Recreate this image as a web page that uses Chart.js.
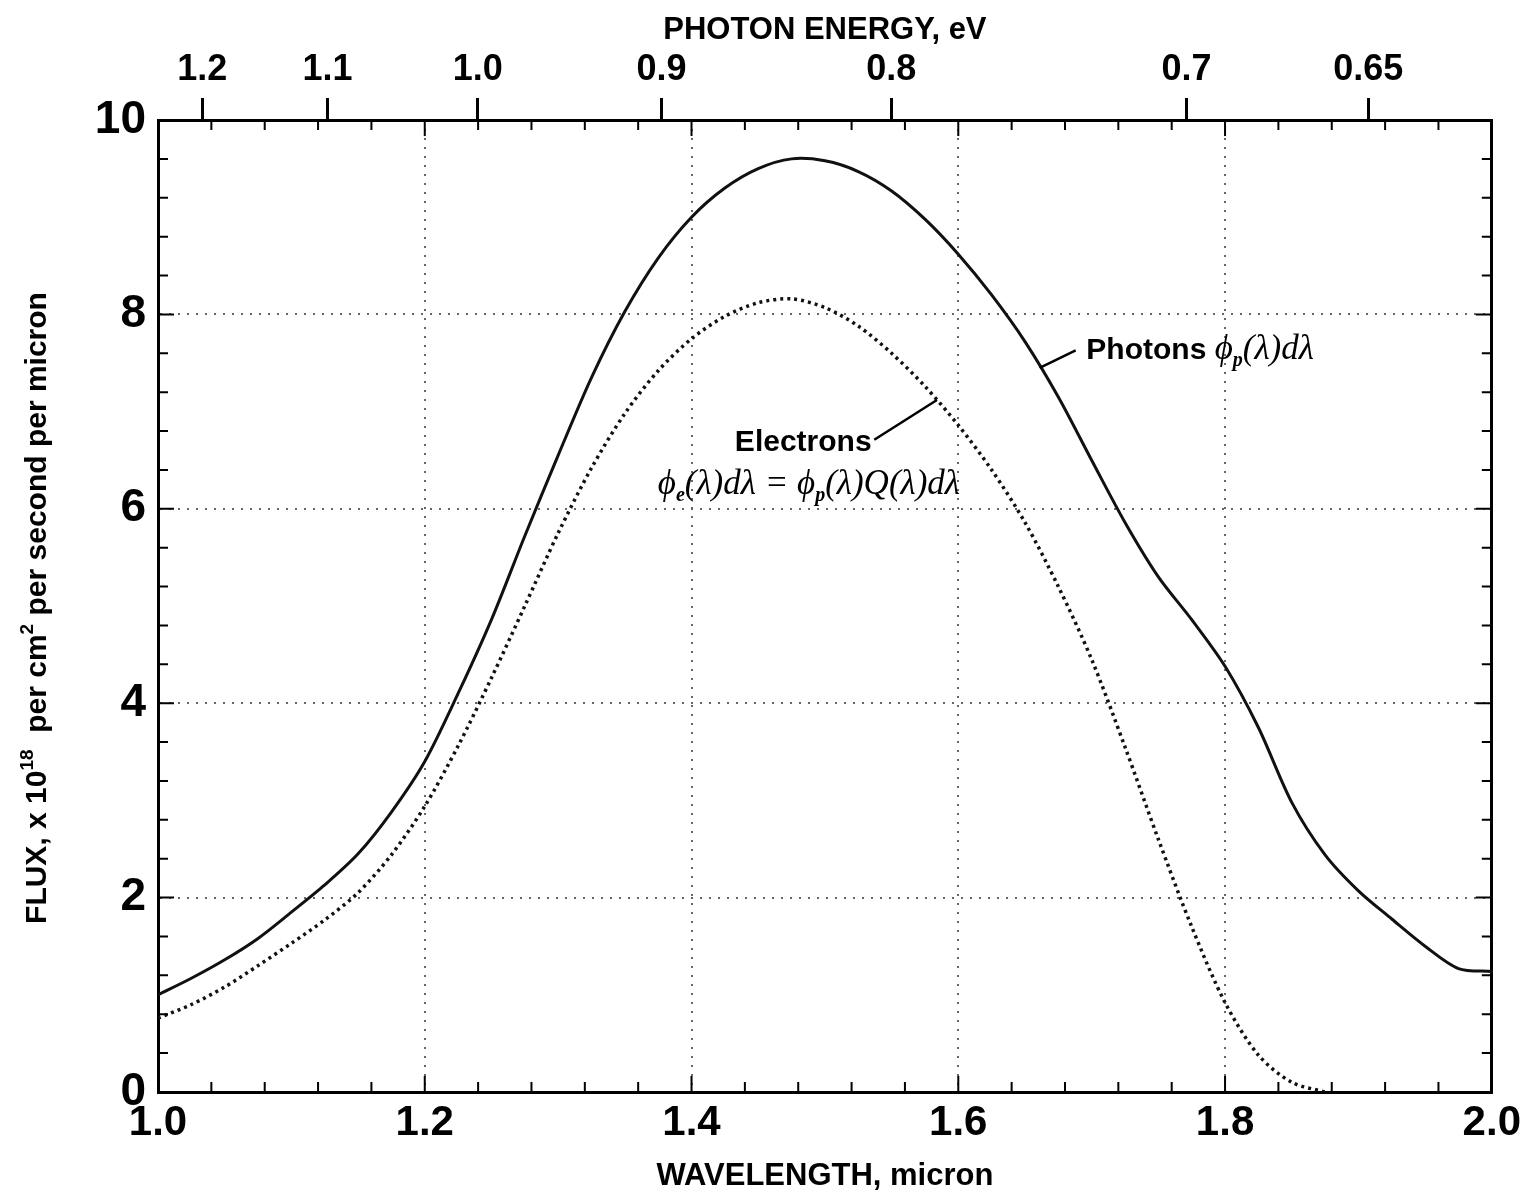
<!DOCTYPE html>
<html>
<head>
<meta charset="utf-8">
<script src="https://cdn.jsdelivr.net/npm/chart.js@4.4.0/dist/chart.umd.min.js"></script>
<style>
  html, body { margin: 0; padding: 0; background: #fff; }
  #wrap { width: 1527px; height: 1199px; }
</style>
</head>
<body>
<div id="wrap"><canvas id="fluxChart" width="1527" height="1199"></canvas></div>
<script>
// Photon flux (solid curve), x 10^18 per cm2 per second per micron
const photonWl = [1.00, 1.025, 1.05, 1.075, 1.10, 1.125, 1.15, 1.175, 1.20, 1.225, 1.25, 1.275,
  1.30, 1.325, 1.35, 1.375, 1.40, 1.425, 1.45, 1.475, 1.50, 1.525, 1.55, 1.575, 1.60, 1.625,
  1.65, 1.675, 1.70, 1.725, 1.75, 1.775, 1.80, 1.825, 1.85, 1.875, 1.90, 1.925, 1.95, 1.975, 2.00];
const photonFlux = [1.0, 1.17, 1.36, 1.58, 1.85, 2.13, 2.45, 2.88, 3.4, 4.1, 4.86, 5.72,
  6.55, 7.35, 8.03, 8.58, 9.0, 9.3, 9.5, 9.6, 9.58, 9.47, 9.27, 8.98, 8.62, 8.2,
  7.72, 7.15, 6.5, 5.86, 5.3, 4.86, 4.38, 3.75, 2.98, 2.44, 2.07, 1.78, 1.5, 1.27, 1.24];

// Electron flux (dotted curve)
const electronWl = [1.00, 1.025, 1.05, 1.075, 1.10, 1.125, 1.15, 1.175, 1.20, 1.225, 1.25, 1.275,
  1.30, 1.325, 1.35, 1.375, 1.40, 1.425, 1.45, 1.475, 1.50, 1.525, 1.55, 1.575, 1.60, 1.625,
  1.65, 1.675, 1.70, 1.725, 1.75, 1.775, 1.80, 1.825, 1.85, 1.875];
const electronFlux = [0.76, 0.9, 1.08, 1.3, 1.53, 1.77, 2.05, 2.44, 2.94, 3.56, 4.26, 5.0,
  5.75, 6.42, 6.98, 7.42, 7.75, 7.98, 8.12, 8.16, 8.07, 7.88, 7.6, 7.26, 6.86, 6.4,
  5.86, 5.2, 4.45, 3.55, 2.6, 1.7, 0.92, 0.38, 0.1, 0.0];

// top axis: photon energy (eV) -> wavelength = HC / E
const energyTicks = [1.2, 1.1, 1.0, 0.9, 0.8, 0.7, 0.65];
const energyLabels = ['1.2', '1.1', '1.0', '0.9', '0.8', '0.7', '0.65'];
const HC = 1.2398;

const SANS = '"Liberation Sans", Arial, Helvetica, sans-serif';
const SERIF = '"Liberation Serif", "Times New Roman", "DejaVu Serif", serif';

const isMajor = (v, step) => Math.abs(v / step - Math.round(v / step)) < 1e-6;

// draw a run of text pieces with different fonts / offsets
function drawRich(ctx, x, y, parts, align) {
  let total = 0;
  parts.forEach(p => { ctx.font = p.font; p.w = ctx.measureText(p.t).width; total += p.w; });
  let cx = align === 'center' ? x - total / 2 : align === 'right' ? x - total : x;
  ctx.textAlign = 'left';
  ctx.textBaseline = 'alphabetic';
  parts.forEach(p => {
    ctx.font = p.font;
    ctx.fillText(p.t, cx, y + (p.dy || 0));
    cx += p.w;
  });
}

// small inward tick marks on all four sides
const innerTicks = {
  id: 'innerTicks',
  afterDraw(chart) {
    const {ctx, chartArea: a, scales: {x, y}} = chart;
    ctx.save();
    ctx.strokeStyle = '#000';
    ctx.lineWidth = 2;
    ctx.beginPath();
    x.ticks.forEach(t => {
      const px = x.getPixelForValue(t.value);
      const len = isMajor(t.value, 0.2) ? 16 : 10;
      ctx.moveTo(px, a.bottom); ctx.lineTo(px, a.bottom - len);
      ctx.moveTo(px, a.top); ctx.lineTo(px, a.top + len);
    });
    y.ticks.forEach(t => {
      const py = y.getPixelForValue(t.value);
      const len = isMajor(t.value, 2) ? 16 : 10;
      ctx.moveTo(a.left, py); ctx.lineTo(a.left + len, py);
      ctx.moveTo(a.right, py); ctx.lineTo(a.right - len, py);
    });
    ctx.stroke();
    ctx.restore();
  }
};

// y title with superscripts
const yTitle = {
  id: 'yTitle',
  afterDraw(chart) {
    const {ctx} = chart;
    ctx.save();
    ctx.translate(46, 608);
    ctx.rotate(-Math.PI / 2);
    ctx.fillStyle = '#000';
    const b = 'bold 30px ' + SANS, s = 'bold 19px ' + SANS;
    drawRich(ctx, 0, 0, [
      {t: 'FLUX, x 10', font: b},
      {t: '18', font: s, dy: -13},
      {t: '  per cm', font: b},
      {t: '2', font: s, dy: -13},
      {t: ' per second per micron', font: b}
    ], 'center');
    ctx.restore();
  }
};

// curve labels with leader lines
const curveLabels = {
  id: 'curveLabels',
  afterDatasetsDraw(chart) {
    const {ctx, scales: {x, y}} = chart;
    const P = (wl, v) => [x.getPixelForValue(wl), y.getPixelForValue(v)];
    ctx.save();
    ctx.strokeStyle = '#000';
    ctx.fillStyle = '#000';
    ctx.lineWidth = 2.5;
    let a = P(1.661, 7.45), b = P(1.688, 7.63);
    ctx.beginPath(); ctx.moveTo(a[0], a[1]); ctx.lineTo(b[0], b[1]); ctx.stroke();
    a = P(1.584, 7.12); b = P(1.537, 6.71);
    ctx.beginPath(); ctx.moveTo(a[0], a[1]); ctx.lineTo(b[0], b[1]); ctx.stroke();

    const bs = 'bold 30px ' + SANS;
    const it = 'italic 35px ' + SERIF;
    const sub = 'bold italic 20px ' + SERIF;
    let p = P(1.696, 7.65);
    drawRich(ctx, p[0], p[1] + 11, [
      {t: 'Photons ', font: bs},
      {t: 'ϕ', font: it},
      {t: 'p', font: sub, dy: 7},
      {t: '(λ)dλ', font: it}
    ], 'left');
    p = P(1.535, 6.71);
    drawRich(ctx, p[0], p[1] + 11, [{t: 'Electrons', font: bs}], 'right');
    p = P(1.488, 6.28);
    drawRich(ctx, p[0], p[1] + 12, [
      {t: 'ϕ', font: it},
      {t: 'e', font: sub, dy: 7},
      {t: '(λ)dλ = ϕ', font: it},
      {t: 'p', font: sub, dy: 7},
      {t: '(λ)Q(λ)dλ', font: it}
    ], 'center');
    ctx.restore();
  }
};

const gridColor = c => (c.tick && isMajor(c.tick.value, 0.2) && c.tick.value > 1.01 && c.tick.value < 1.99)
  ? '#666' : 'rgba(0,0,0,0)';
const yGridColor = c => (c.tick && isMajor(c.tick.value, 2) && c.tick.value > 0.1 && c.tick.value < 9.9)
  ? '#666' : 'rgba(0,0,0,0)';

new Chart(document.getElementById('fluxChart'), {
  type: 'scatter',
  data: {
    datasets: [
      {
        label: 'Photons',
        data: photonWl.map((w, i) => ({x: w, y: photonFlux[i]})),
        showLine: true,
        borderColor: '#111',
        borderWidth: 3,
        pointRadius: 0,
        tension: 0.3
      },
      {
        label: 'Electrons',
        data: electronWl.map((w, i) => ({x: w, y: electronFlux[i]})),
        showLine: true,
        borderColor: '#111',
        borderWidth: 3.5,
        borderDash: [3, 4],
        pointRadius: 0,
        tension: 0.3
      }
    ]
  },
  options: {
    responsive: false,
    animation: false,
    devicePixelRatio: 1,
    layout: { padding: 0 },
    plugins: { legend: { display: false }, tooltip: { enabled: false } },
    scales: {
      x: {
        type: 'linear', position: 'bottom', min: 1, max: 2,
        afterFit: s => { s.height = 107; },
        ticks: {
          stepSize: 0.04, autoSkip: false, maxRotation: 0, padding: 6, color: '#000',
          font: { family: SANS, size: 42, weight: 'bold' },
          callback: v => isMajor(v, 0.2) ? v.toFixed(1) : ''
        },
        grid: { drawTicks: false, color: gridColor, lineWidth: 2 },
        border: { display: true, color: '#000', width: 3, dash: [2, 7] },
        title: {
          display: true, text: 'WAVELENGTH, micron', color: '#000',
          font: { family: SANS, size: 31, weight: 'bold' }, padding: { top: 0, bottom: 4 }
        }
      },
      xTop: {
        type: 'linear', position: 'top', min: 1, max: 2,
        afterFit: s => { s.height = 120; },
        afterBuildTicks: s => { s.ticks = energyTicks.map(e => ({value: HC / e})); },
        ticks: {
          autoSkip: false, maxRotation: 0, padding: 6, color: '#000',
          font: { family: SANS, size: 36, weight: 'bold' },
          callback: (v, i) => energyLabels[i]
        },
        grid: { drawOnChartArea: false, drawTicks: true, tickLength: 22, tickWidth: 3, tickColor: '#000' },
        border: { display: true, color: '#000', width: 3 },
        title: {
          display: true, text: 'PHOTON ENERGY, eV', color: '#000',
          font: { family: SANS, size: 31, weight: 'bold' }, padding: { top: 12, bottom: 0 }
        }
      },
      y: {
        type: 'linear', position: 'left', min: 0, max: 10,
        afterFit: s => { s.width = 158; },
        ticks: {
          stepSize: 0.4, autoSkip: false, padding: 12, color: '#000',
          font: { family: SANS, size: 46, weight: 'bold' },
          callback: v => isMajor(v, 2) ? String(Math.round(v)) : ''
        },
        grid: { drawTicks: false, color: yGridColor, lineWidth: 2 },
        border: { display: true, color: '#000', width: 3, dash: [2, 7] }
      },
      yRight: {
        type: 'linear', position: 'right', min: 0, max: 10,
        afterFit: s => { s.width = 34; },
        ticks: { display: false },
        grid: { drawOnChartArea: false, drawTicks: false },
        border: { display: true, color: '#000', width: 3 }
      }
    }
  },
  plugins: [innerTicks, yTitle, curveLabels]
});
</script>
</body>
</html>
